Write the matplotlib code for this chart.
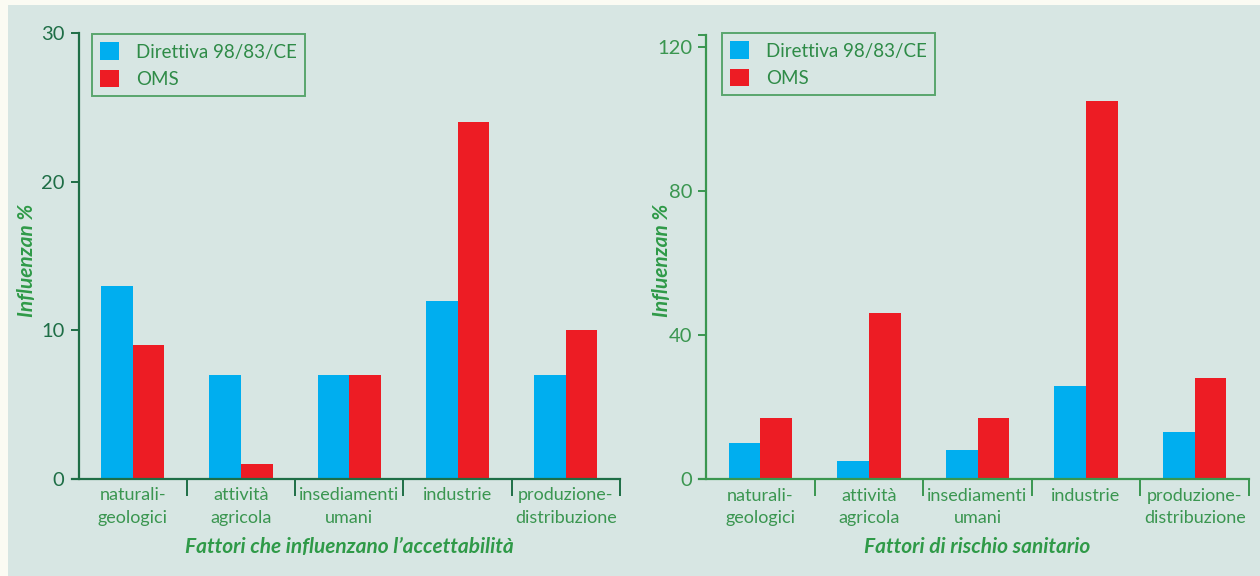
import matplotlib.pyplot as plt
from matplotlib.patches import Rectangle
import numpy as np

plt.rcParams['font.family'] = ['Lato', 'DejaVu Sans']

# ---- data ----
categories = ['naturali-\ngeologici', 'attività\nagricola', 'insediamenti\numani',
              'industrie', 'produzione-\ndistribuzione']
series_names = ['Direttiva 98/83/CE', 'OMS']
accett_direttiva = [13, 7, 7, 12, 7]
accett_oms = [9, 1, 7, 24, 10]
rischio_direttiva = [10, 5, 8, 26, 13]
rischio_oms = [17, 46, 17, 105, 28]

BLUE = '#00aeef'
RED = '#ed1c24'
BG = '#d7e6e3'
DARK = '#1e6e46'
GREEN = '#3a9650'
LABEL = '#2f9a48'

fig = plt.figure(figsize=(12.6, 5.76), dpi=100, facecolor='#fbfbf3')
fig.patches.append(Rectangle((8 / 1260, 0), 1, 571 / 576, transform=fig.transFigure,
                             facecolor=BG, edgecolor='none', zorder=-10))

W, H = 1260, 576


def px_axes(x0, y0, x1, y1):
    return fig.add_axes([x0 / W, 1 - y1 / H, (x1 - x0) / W, (y1 - y0) / H])


def draw(ax, blue, red, ymax, yticks, spine_col, xlabel, ycap=None):
    n = len(categories)
    x = np.arange(n) + 0.5
    bw = 0.292
    ax.bar(x - bw / 2, blue, bw, color=BLUE, label=series_names[0], zorder=2)
    ax.bar(x + bw / 2, red, bw, color=RED, label=series_names[1], zorder=2)
    ax.set_facecolor('none')
    ax.set_xlim(0, n)
    ax.set_ylim(0, ymax)
    for s in ('top', 'right'):
        ax.spines[s].set_visible(False)
    for s in ('left', 'bottom'):
        ax.spines[s].set_color(spine_col)
        ax.spines[s].set_linewidth(1.6)
    ax.spines['bottom'].set_bounds(-0.06, n)
    ax.set_yticks(yticks)
    ax.set_yticklabels([str(t) for t in yticks])
    ax.tick_params(axis='y', colors=spine_col, labelcolor=spine_col, length=6,
                   width=1.4, labelsize=14.5, pad=4)
    if ycap is not None:
        ax.set_yticks([ycap], minor=True)
        ax.tick_params(axis='y', which='minor', colors=spine_col, length=6, width=1.4)
    ax.set_xticks(x)
    ax.set_xticklabels(categories, fontsize=13, color=GREEN, linespacing=1.5)
    ax.tick_params(axis='x', which='major', length=0, pad=6)
    ax.set_xticks(np.arange(1, n + 1), minor=True)
    ax.tick_params(axis='x', which='minor', colors=spine_col, length=12, width=1.4)
    ax.set_xlabel(xlabel, fontsize=15, color=LABEL, fontstyle='italic',
                  fontweight='bold', labelpad=8)
    leg = ax.legend(loc='upper left', fontsize=13.5, frameon=True, fancybox=False,
                    handlelength=1.0, handleheight=1.05, handletextpad=0.9,
                    labelspacing=0.5, borderpad=0.45, borderaxespad=0)
    leg.get_frame().set_edgecolor(GREEN)
    leg.get_frame().set_facecolor('none')
    leg.get_frame().set_linewidth(1.4)
    for t in leg.get_texts():
        t.set_color('#2e8b47')
    return leg


ax1 = px_axes(78.5, 33, 620, 479)
leg1 = draw(ax1, accett_direttiva, accett_oms, 30, [0, 10, 20, 30], DARK,
            'Fattori che influenzano l\u2019accettabilità')
leg1.set_bbox_to_anchor(((92 - 78.5) / 541.5, (479 - 34) / 446), transform=ax1.transAxes)

ax2 = px_axes(706, 35, 1249, 479.3)
leg2 = draw(ax2, rischio_direttiva, rischio_oms, 123.2, [0, 40, 80, 120], GREEN,
            'Fattori di rischio sanitario', ycap=123.2)
leg2.set_bbox_to_anchor(((722 - 706) / 543, (479.3 - 33) / 444.3), transform=ax2.transAxes)

for xc in (27, 662):
    fig.text(xc / W, 1 - 260 / H, 'Influenzan %', rotation=90, ha='center', va='center',
             fontsize=15, color=LABEL, fontstyle='italic', fontweight='bold')

fig.savefig('out.png', dpi=100, facecolor=fig.get_facecolor())
